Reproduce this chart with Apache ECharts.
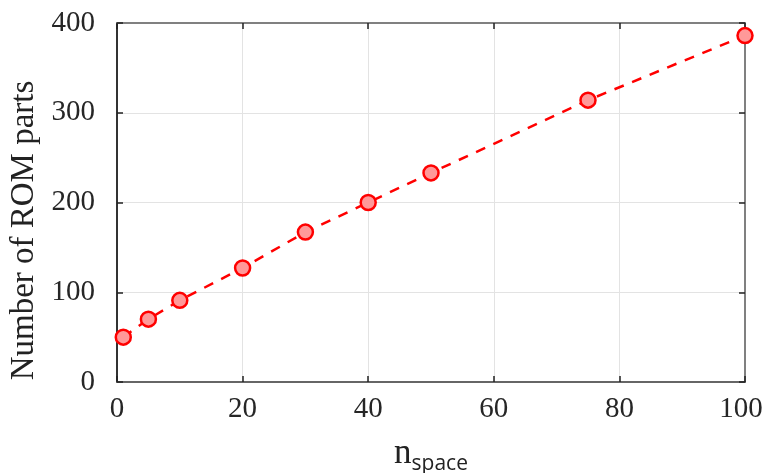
<!DOCTYPE html>
<html>
<head>
<meta charset="utf-8">
<script src="https://cdn.jsdelivr.net/npm/echarts@6/dist/echarts.min.js"></script>
<style>
  html, body { margin: 0; padding: 0; background: #fff; }
  #chart { width: 764px; height: 473px; }
</style>
</head>
<body>
<div id="chart"></div>
<script>
// Number of ROM parts against n_space
const nSpace = [1, 5, 10, 20, 30, 40, 50, 75, 100];
const romParts = [50, 70, 91, 127, 167, 200, 233, 314, 386];

const serif = '"Liberation Serif", "Times New Roman", serif';
const sans = '"Open Sans", "Noto Sans", sans-serif';

const chart = echarts.init(document.getElementById('chart'), null, { renderer: 'canvas' });

// top / right frame axes: line and inward ticks only
const boxAxis = {
  axisLine: { show: true, onZero: false, lineStyle: { color: '#808080', width: 2 } },
  axisTick: { show: true, inside: true, length: 6, lineStyle: { color: '#222', width: 1.5 } },
  axisLabel: { show: false },
  splitLine: { show: false }
};

chart.setOption({
  animation: false,
  backgroundColor: '#fff',
  grid: { left: 117, right: 19, top: 23, bottom: 91, outerBoundsMode: 'none', containLabel: false },
  xAxis: [{
    type: 'value',
    min: 0, max: 100, interval: 20,
    name: '{n|n}{s|space}',
    nameLocation: 'middle',
    nameGap: 54,
    nameTextStyle: {
      rich: {
        n: { fontFamily: serif, fontSize: 35, color: '#222', verticalAlign: 'bottom' },
        s: { fontFamily: sans, fontSize: 21, color: '#222', verticalAlign: 'bottom', padding: [0, 0, -4, 0] }
      }
    },
    axisLine: { show: true, onZero: false, lineStyle: { color: '#666', width: 2 } },
    axisTick: { show: true, inside: true, length: 6, lineStyle: { color: '#222', width: 1.5 } },
    axisLabel: {
      fontFamily: serif, fontSize: 29, color: '#262626', margin: 13,
      // keep the last label inside the canvas edge
      formatter: v => (v === 100 ? '{last|' + v + '}' : String(v)),
      rich: { last: { fontFamily: serif, fontSize: 29, color: '#262626', padding: [0, 8, 0, 0] } }
    },
    splitLine: { show: true, lineStyle: { color: '#e3e3e3', width: 1 } }
  }, Object.assign({ type: 'value', position: 'top', min: 0, max: 100, interval: 20 }, boxAxis)],
  yAxis: [{
    type: 'value',
    min: 0, max: 400, interval: 100,
    name: 'Number of ROM parts',
    nameLocation: 'middle',
    nameGap: 70,
    nameTextStyle: { fontFamily: serif, fontSize: 33, color: '#222', padding: [0, 56, 0, 0] },
    axisLine: { show: true, onZero: false, lineStyle: { color: '#333', width: 2 } },
    axisTick: { show: true, inside: true, length: 6, lineStyle: { color: '#222', width: 1.5 } },
    axisLabel: { fontFamily: serif, fontSize: 29, color: '#262626', margin: 22 },
    splitLine: { show: true, lineStyle: { color: '#e3e3e3', width: 1 } }
  }, Object.assign({ type: 'value', position: 'right', min: 0, max: 400, interval: 100 }, boxAxis)],
  series: [{
    type: 'line',
    data: nSpace.map((x, i) => [x, romParts[i]]),
    symbol: 'circle',
    symbolSize: 15,
    lineStyle: { color: '#ff0000', width: 2.5, type: [10, 9] },
    itemStyle: { color: '#ff9999', borderColor: '#ff0000', borderWidth: 2.5 },
    z: 5
  }]
});
</script>
</body>
</html>
